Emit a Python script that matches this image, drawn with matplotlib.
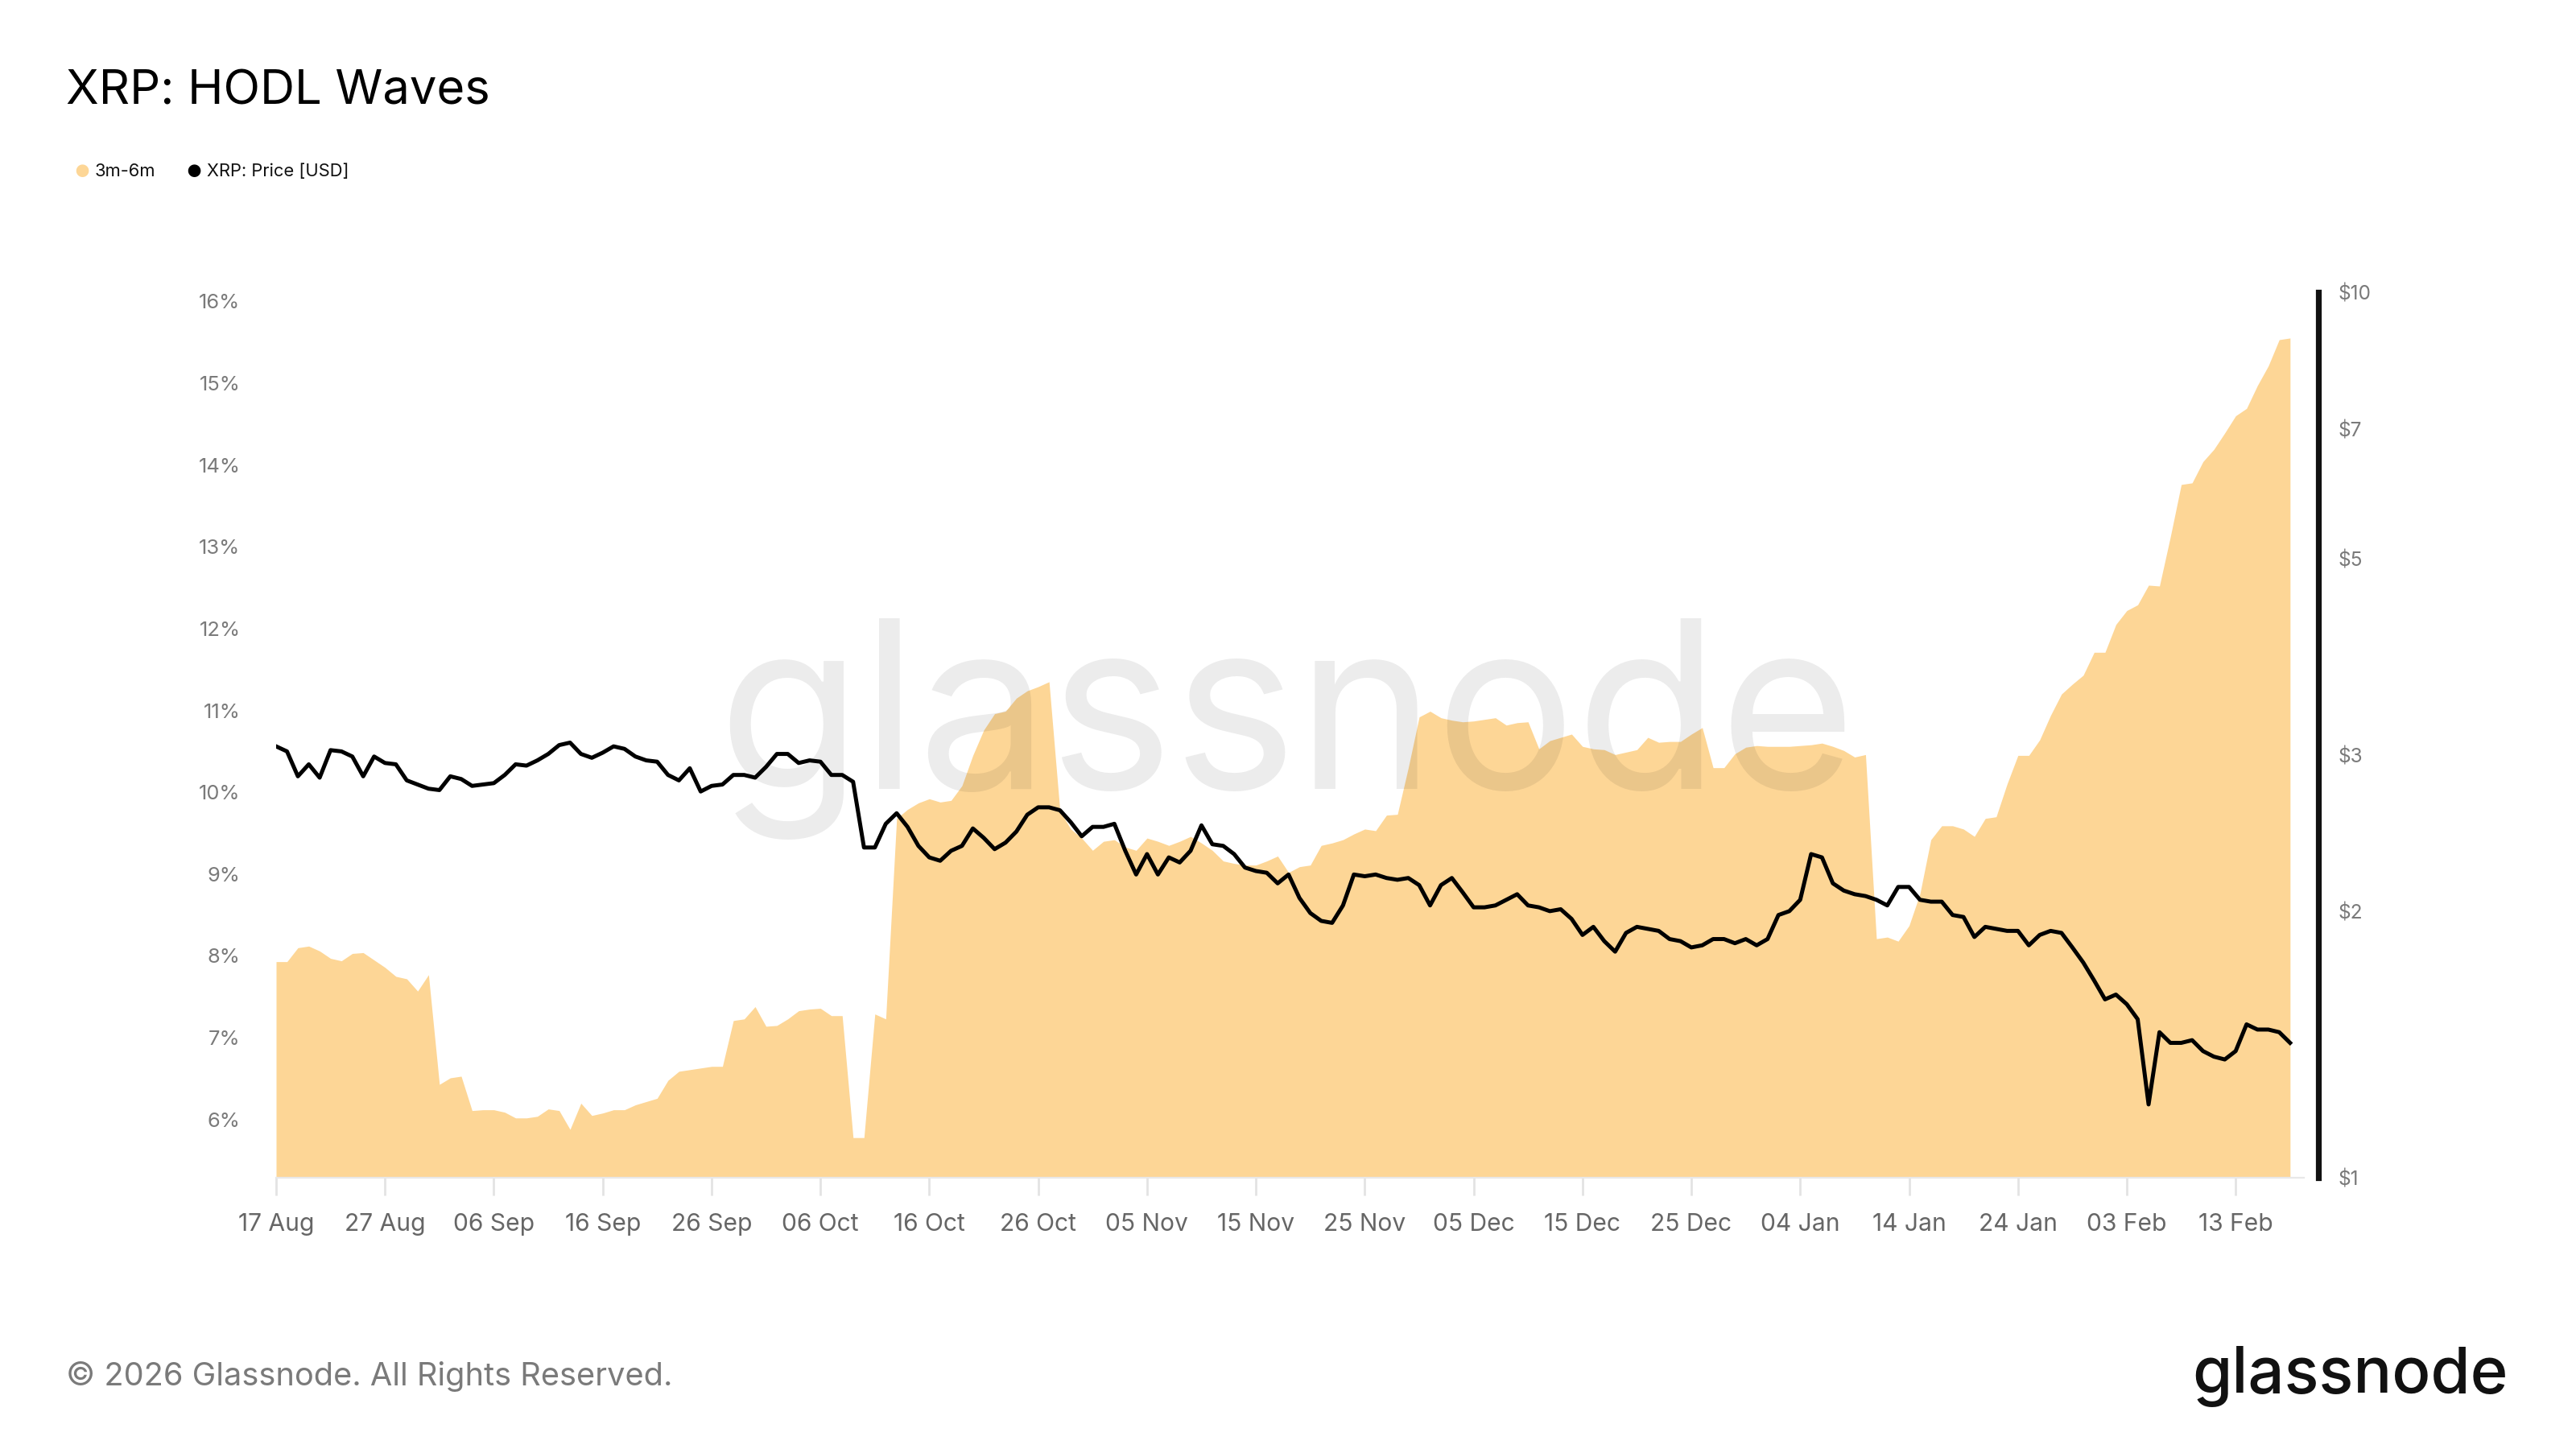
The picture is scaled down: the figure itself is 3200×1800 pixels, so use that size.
import matplotlib
matplotlib.use('Agg')
import matplotlib.pyplot as plt
import matplotlib.ticker as mticker
import numpy as np
import pandas as pd

plt.rcParams['font.family'] = ['Inter', 'DejaVu Sans']

# daily data, 17 Aug 2025 -> 18 Feb 2026
dates = pd.date_range('2025-08-17', periods=186, freq='D')

# share of supply held 3m-6m (%)
hodl_3m_6m = [
    7.93, 7.93, 8.10, 8.12, 8.06, 7.97, 7.94, 8.03, 8.04, 7.95,
    7.86, 7.75, 7.72, 7.57, 7.77, 6.43, 6.51, 6.53, 6.11, 6.12,
    6.12, 6.09, 6.02, 6.02, 6.04, 6.13, 6.11, 5.88, 6.20, 6.05,
    6.08, 6.12, 6.12, 6.18, 6.22, 6.26, 6.48, 6.59, 6.61, 6.63,
    6.65, 6.65, 7.21, 7.23, 7.38, 7.14, 7.15, 7.23, 7.33, 7.35,
    7.36, 7.27, 7.27, 5.78, 5.78, 7.29, 7.23, 9.68, 9.79, 9.87,
    9.92, 9.88, 9.90, 10.08, 10.45, 10.76, 10.96, 10.99, 11.15, 11.24,
    11.29, 11.35, 9.77, 9.55, 9.44, 9.29, 9.40, 9.42, 9.33, 9.29,
    9.44, 9.40, 9.35, 9.40, 9.46, 9.38, 9.29, 9.16, 9.13, 9.11,
    9.11, 9.16, 9.22, 9.02, 9.09, 9.11, 9.35, 9.38, 9.42, 9.49,
    9.55, 9.53, 9.72, 9.73, 10.30, 10.92, 10.99, 10.91, 10.88, 10.86,
    10.87, 10.89, 10.91, 10.82, 10.85, 10.86, 10.53, 10.63, 10.67, 10.71,
    10.56, 10.53, 10.52, 10.46, 10.49, 10.52, 10.67, 10.61, 10.62, 10.62,
    10.71, 10.79, 10.30, 10.30, 10.47, 10.55, 10.57, 10.56, 10.56, 10.56,
    10.57, 10.58, 10.60, 10.56, 10.51, 10.43, 10.46, 8.21, 8.23, 8.18,
    8.37, 8.76, 9.42, 9.59, 9.59, 9.55, 9.46, 9.68, 9.70, 10.10,
    10.45, 10.45, 10.64, 10.94, 11.20, 11.32, 11.43, 11.71, 11.71, 12.05,
    12.22, 12.29, 12.53, 12.52, 13.12, 13.76, 13.78, 14.04, 14.19, 14.39,
    14.60, 14.69, 14.97, 15.21, 15.53, 15.55,
]

# XRP price (USD)
xrp_price = [
    3.07, 3.03, 2.84, 2.93, 2.83, 3.04, 3.03, 2.99, 2.84, 2.99,
    2.94, 2.93, 2.81, 2.78, 2.75, 2.74, 2.84, 2.82, 2.77, 2.78,
    2.79, 2.85, 2.93, 2.92, 2.96, 3.01, 3.08, 3.10, 3.01, 2.98,
    3.02, 3.07, 3.05, 2.99, 2.96, 2.95, 2.85, 2.81, 2.90, 2.73,
    2.77, 2.78, 2.85, 2.85, 2.83, 2.91, 3.01, 3.01, 2.94, 2.96,
    2.95, 2.85, 2.85, 2.80, 2.36, 2.36, 2.51, 2.58, 2.49, 2.37,
    2.30, 2.28, 2.34, 2.37, 2.48, 2.42, 2.35, 2.39, 2.46, 2.57,
    2.62, 2.62, 2.60, 2.52, 2.43, 2.49, 2.49, 2.51, 2.34, 2.20,
    2.32, 2.20, 2.30, 2.27, 2.34, 2.50, 2.38, 2.37, 2.32, 2.24,
    2.22, 2.21, 2.15, 2.20, 2.07, 1.99, 1.95, 1.94, 2.03, 2.20,
    2.19, 2.20, 2.18, 2.17, 2.18, 2.14, 2.03, 2.14, 2.18, 2.10,
    2.02, 2.02, 2.03, 2.06, 2.09, 2.03, 2.02, 2.00, 2.01, 1.96,
    1.88, 1.92, 1.85, 1.80, 1.89, 1.92, 1.91, 1.90, 1.86, 1.85,
    1.82, 1.83, 1.86, 1.86, 1.84, 1.86, 1.83, 1.86, 1.98, 2.00,
    2.06, 2.32, 2.30, 2.15, 2.11, 2.09, 2.08, 2.06, 2.03, 2.13,
    2.13, 2.06, 2.05, 2.05, 1.98, 1.97, 1.87, 1.92, 1.91, 1.90,
    1.90, 1.83, 1.88, 1.90, 1.89, 1.82, 1.75, 1.67, 1.59, 1.61,
    1.57, 1.51, 1.21, 1.46, 1.42, 1.42, 1.43, 1.39, 1.37, 1.36,
    1.39, 1.49, 1.47, 1.47, 1.46, 1.42,
]

pct_ticks = [6, 7, 8, 9, 10, 11, 12, 13, 14, 15, 16]
price_ticks = [1, 2, 3, 5, 7, 10]

AREA = '#fdd696'
GREY = '#7a7a7a'

W, H = 3200, 1800
fig = plt.figure(figsize=(16, 9), dpi=200)

# axes box in pixels of the 3200x1800 picture
left, right, top, bottom = 343, 2880, 363, 1463
ax = fig.add_axes([left / W, 1 - bottom / H, (right - left) / W, (bottom - top) / H])

x = np.arange(len(dates))
ax.fill_between(x, hodl_3m_6m, 0, color=AREA, lw=0, zorder=1)
ax.set_xlim(0, 187.6)
ax.set_ylim(5.29, 16.11)

ax.set_yticks(pct_ticks)
ax.yaxis.set_major_formatter(mticker.FuncFormatter(lambda v, p: f'{v:.0f}%'))
ax.tick_params(axis='y', length=0, labelsize=9.2, labelcolor=GREY, pad=16)

xt = x[::10]
ax.set_xticks(xt)
ax.set_xticklabels(dates[::10].strftime('%d %b'))
ax.tick_params(axis='x', length=8, width=1, color='#e3e3e3', labelsize=10.8,
               labelcolor='#666666', pad=8)

for s in ['top', 'left', 'right']:
    ax.spines[s].set_visible(False)
ax.spines['bottom'].set_color('#e8e8e8')
ax.spines['bottom'].set_bounds(0, 186.3)

# watermark, between the area and the price line
wm = ax.text(1598 / W, 1 - 980 / H, 'glassnode', transform=fig.transFigure,
             ha='center', va='baseline', fontsize=100, color='black',
             alpha=0.075, zorder=5)

ax2 = ax.twinx()
ax2.plot(x, xrp_price, color='black', lw=1.8, zorder=3)
ax2.set_yscale('log')
ax2.set_ylim(1, 10)
ax2.set_yticks(price_ticks)
ax2.yaxis.set_major_formatter(mticker.FuncFormatter(lambda v, p: f'${v:.0f}'))
ax2.yaxis.set_minor_locator(mticker.NullLocator())
ax2.tick_params(axis='y', length=0, labelsize=8.8, labelcolor=GREY, pad=9)
for s in ['top', 'left', 'bottom']:
    ax2.spines[s].set_visible(False)
ax2.spines['right'].set_linewidth(2.6)
ax2.spines['right'].set_color('#111111')

# title and legend
fig.text(82 / W, 1 - 114 / H, 'XRP: HODL Waves', fontsize=21.5, va='center',
         ha='left', color='black')
fig.text(102 / W, 1 - 214 / H, '\u25CF', fontsize=7.5, color=AREA, va='center', ha='center')
fig.text(118 / W, 1 - 213 / H, '3m-6m', fontsize=7.9, color='#111111', va='center')
fig.text(241 / W, 1 - 214 / H, '\u25CF', fontsize=7.5, color='black', va='center', ha='center')
fig.text(257 / W, 1 - 213 / H, 'XRP: Price [USD]', fontsize=7.9, color='#111111', va='center')

# footer
fig.text(82 / W, 1 - 1710 / H, '\u00A9 2026 Glassnode. All Rights Reserved.',
         fontsize=14.3, color=GREY, va='center', ha='left')
logo = fig.text(3116 / W, 1 - 1730 / H, 'glassnode', fontsize=27, color='#111111',
                va='baseline', ha='right', fontweight='medium')

# fit watermark and logo widths to the reference
fig.canvas.draw()
r = fig.canvas.get_renderer()
wm.set_fontsize(100 * 1414 / wm.get_window_extent(r).width)
logo.set_fontsize(27 * 392 / logo.get_window_extent(r).width)

fig.savefig('out.png', dpi=200, facecolor='white')
